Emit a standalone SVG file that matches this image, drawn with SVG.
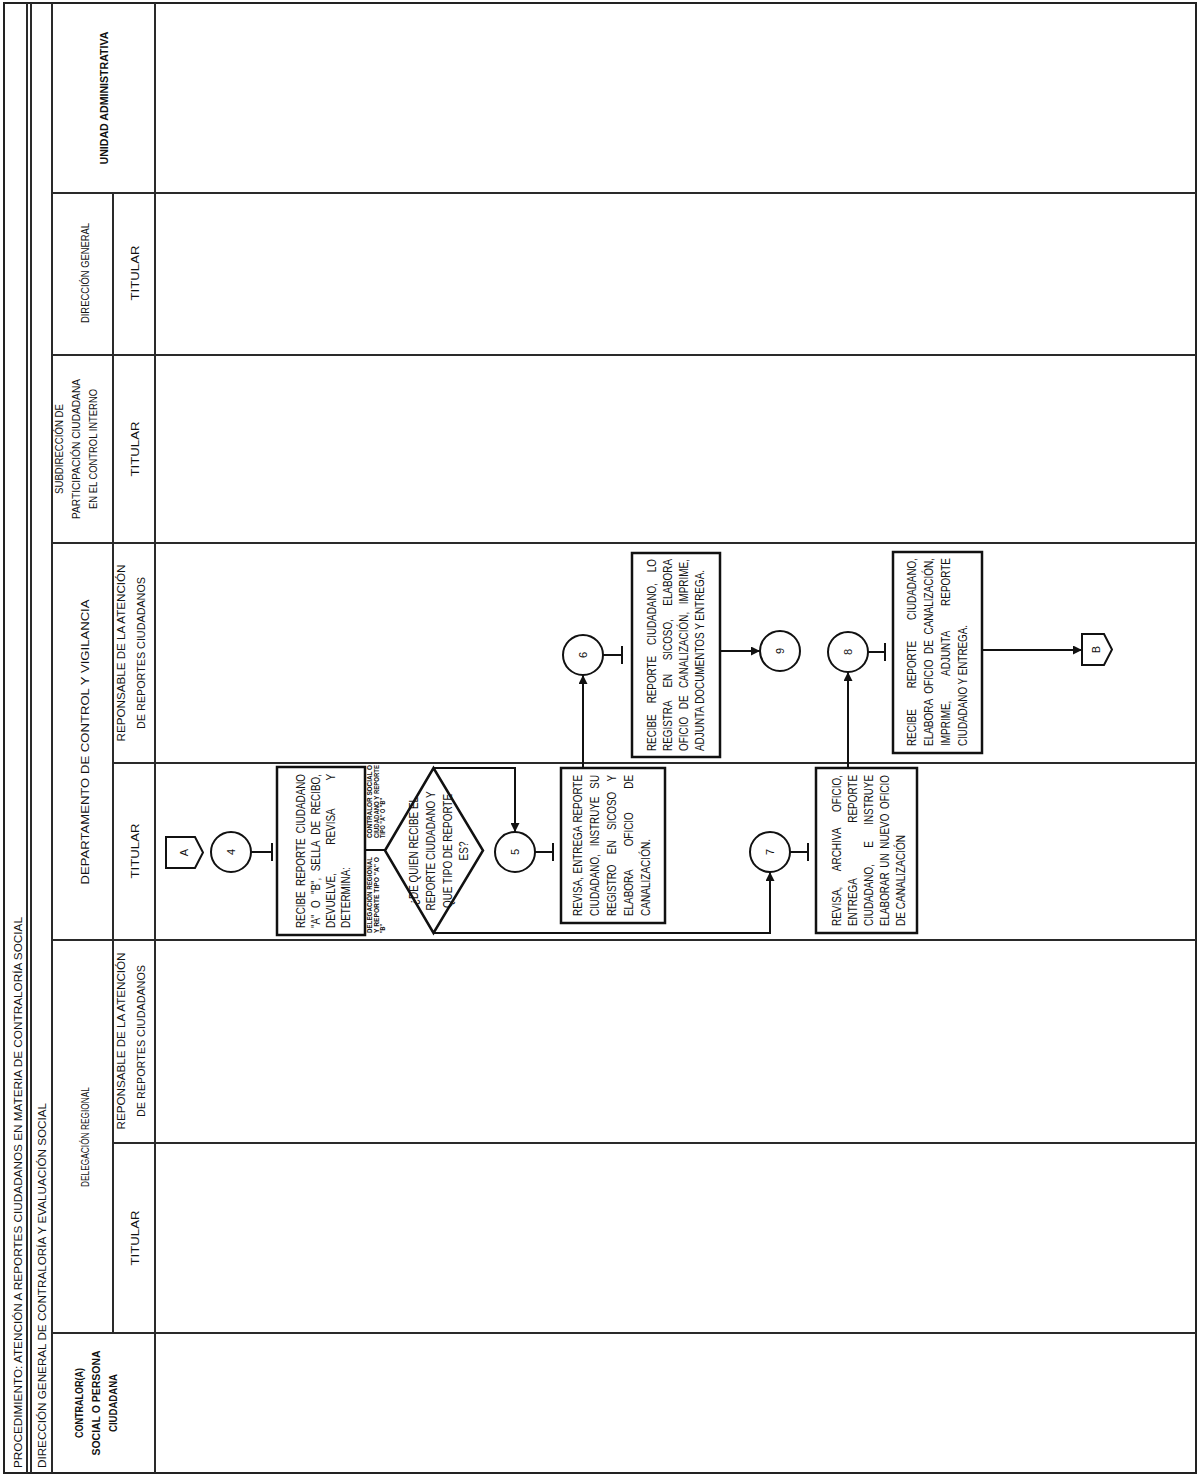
<svg xmlns="http://www.w3.org/2000/svg" width="1199" height="1475" viewBox="0 0 1199 1475">
<style>
.f{font-family:"Liberation Sans",Arial,sans-serif;fill:#111}
.h{font-size:11px}
.hb{font-size:11px;font-weight:bold}
.tt{font-size:11px}
.bt{font-size:12px}
.sm{font-size:6.5px;font-weight:bold}
.cn{font-size:11px}
.frame{fill:#fff;stroke:#222;stroke-width:2}
.lane{stroke:#2a2a2a;stroke-width:2;fill:none}
.box{fill:#fff;stroke:#111;stroke-width:2.5}
.circ{fill:#fff;stroke:#111;stroke-width:2}
.ln{stroke:#111;stroke-width:2;fill:none}
</style>
<defs>
<marker id="ah" viewBox="0 0 10 10" refX="10" refY="5" markerWidth="11" markerHeight="9" markerUnits="userSpaceOnUse" orient="auto"><path d="M0,0 L10,5 L0,10 z" fill="#111"/></marker>
</defs>

<g id="frame">
<rect class="frame" x="4" y="3" width="1192" height="1470"/>
<line class="lane" x1="27" y1="3" x2="27" y2="1473"/>
<line class="lane" x1="31" y1="3" x2="31" y2="1473"/>
<line class="lane" x1="52" y1="3" x2="52" y2="1473"/>
<line class="lane" x1="155" y1="3" x2="155" y2="1473"/>
<line class="lane" x1="113" y1="193" x2="113" y2="1333"/>
<line class="lane" x1="52" y1="193" x2="1196" y2="193"/>
<line class="lane" x1="52" y1="355" x2="1196" y2="355"/>
<line class="lane" x1="52" y1="543" x2="1196" y2="543"/>
<line class="lane" x1="113" y1="763" x2="1196" y2="763"/>
<line class="lane" x1="52" y1="940" x2="1196" y2="940"/>
<line class="lane" x1="113" y1="1143" x2="1196" y2="1143"/>
<line class="lane" x1="52" y1="1333" x2="1196" y2="1333"/>
</g>

<g id="title">
<text class="f tt" transform="translate(22,1468) rotate(-90)" textLength="551" lengthAdjust="spacingAndGlyphs">PROCEDIMIENTO: ATENCIÓN A REPORTES CIUDADANOS EN MATERIA DE CONTRALORÍA SOCIAL</text>
<text class="f tt" transform="translate(46,1468) rotate(-90)" textLength="365" lengthAdjust="spacingAndGlyphs">DIRECCIÓN GENERAL DE CONTRALORÍA Y EVALUACIÓN SOCIAL</text>
</g>

<g id="header" text-anchor="middle">
<text class="f hb" transform="translate(108,98) rotate(-90)" textLength="133" lengthAdjust="spacingAndGlyphs">UNIDAD ADMINISTRATIVA</text>
<text class="f h" transform="translate(89,273) rotate(-90)" textLength="100" lengthAdjust="spacingAndGlyphs">DIRECCIÓN GENERAL</text>
<text class="f h" transform="translate(139,273) rotate(-90)" textLength="55" lengthAdjust="spacingAndGlyphs">TITULAR</text>
<text class="f h" transform="translate(63,449) rotate(-90)" textLength="90" lengthAdjust="spacingAndGlyphs">SUBDIRECCIÓN DE</text>
<text class="f h" transform="translate(80,449) rotate(-90)" textLength="140" lengthAdjust="spacingAndGlyphs">PARTICIPACIÓN CIUDADANA</text>
<text class="f h" transform="translate(97,449) rotate(-90)" textLength="120" lengthAdjust="spacingAndGlyphs">EN EL CONTROL INTERNO</text>
<text class="f h" transform="translate(139,449) rotate(-90)" textLength="55" lengthAdjust="spacingAndGlyphs">TITULAR</text>
<text class="f h" transform="translate(89,742) rotate(-90)" textLength="285" lengthAdjust="spacingAndGlyphs">DEPARTAMENTO DE CONTROL Y VIGILANCIA</text>
<text class="f h" transform="translate(125,653) rotate(-90)" textLength="177" lengthAdjust="spacingAndGlyphs">REPONSABLE DE LA ATENCIÓN</text>
<text class="f h" transform="translate(145,653) rotate(-90)" textLength="152" lengthAdjust="spacingAndGlyphs">DE REPORTES CIUDADANOS</text>
<text class="f h" transform="translate(139,851) rotate(-90)" textLength="55" lengthAdjust="spacingAndGlyphs">TITULAR</text>
<text class="f h" transform="translate(89,1137) rotate(-90)" textLength="100" lengthAdjust="spacingAndGlyphs">DELEGACIÓN REGIONAL</text>
<text class="f h" transform="translate(125,1041) rotate(-90)" textLength="177" lengthAdjust="spacingAndGlyphs">REPONSABLE DE LA ATENCIÓN</text>
<text class="f h" transform="translate(145,1041) rotate(-90)" textLength="152" lengthAdjust="spacingAndGlyphs">DE REPORTES CIUDADANOS</text>
<text class="f h" transform="translate(139,1238) rotate(-90)" textLength="55" lengthAdjust="spacingAndGlyphs">TITULAR</text>
<text class="f hb" transform="translate(83,1403) rotate(-90)" textLength="70" lengthAdjust="spacingAndGlyphs">CONTRALOR(A)</text>
<text class="f hb" transform="translate(100,1403) rotate(-90)" textLength="105" lengthAdjust="spacingAndGlyphs">SOCIAL O PERSONA</text>
<text class="f hb" transform="translate(117,1403) rotate(-90)" textLength="58" lengthAdjust="spacingAndGlyphs">CIUDADANA</text>
</g>

<g id="connectors">
<path class="ln" d="M251,852 H272 M272,843 V861"/>
<path class="ln" d="M365,850 H385"/>
<path class="ln" d="M433,768 H515 V832" marker-end="url(#ah)"/>
<path class="ln" d="M433,933 H770 V872" marker-end="url(#ah)"/>
<path class="ln" d="M535,852 H553 M553,843 V861"/>
<path class="ln" d="M583,768 V675" marker-end="url(#ah)"/>
<path class="ln" d="M603,655 H622 M622,646 V664"/>
<path class="ln" d="M720,651 H760" marker-end="url(#ah)"/>
<path class="ln" d="M790,852 H808 M808,843 V861"/>
<path class="ln" d="M848,768 V672" marker-end="url(#ah)"/>
<path class="ln" d="M868,652 H885 M885,643 V661"/>
<path class="ln" d="M982,650 H1082" marker-end="url(#ah)"/>
</g>

<g id="offpage-A">
<path class="box" style="stroke-width:2" d="M166,837 H195 L203,852.5 L195,868 H166 Z"/>
<text class="f cn" text-anchor="middle" transform="translate(188,852.5) rotate(-90)">A</text>
</g>

<g id="c4">
<circle class="circ" cx="231" cy="852" r="20"/>
<text class="f cn" text-anchor="middle" transform="translate(235,852) rotate(-90)">4</text>
</g>

<g id="box1">
<rect class="box" x="277" y="767" width="88" height="168"/>
<g class="f bt">
<text transform="translate(305,928) rotate(-90)" word-spacing="3.2" textLength="154" lengthAdjust="spacingAndGlyphs">RECIBE REPORTE CIUDADANO</text>
<text transform="translate(320,928) rotate(-90)" word-spacing="4.4" textLength="154" lengthAdjust="spacingAndGlyphs">"A" O "B", SELLA DE RECIBO,</text>
<text transform="translate(335,928) rotate(-90)" word-spacing="31" textLength="154" lengthAdjust="spacingAndGlyphs">DEVUELVE, REVISA Y</text>
<text transform="translate(350,928) rotate(-90)" textLength="61" lengthAdjust="spacingAndGlyphs">DETERMINA:</text>
</g>
</g>

<g id="branch-labels" class="f sm">
<text transform="translate(372,838) rotate(-90)" textLength="73" lengthAdjust="spacingAndGlyphs">CONTRALOR SOCIAL O</text>
<text transform="translate(378.5,838) rotate(-90)" textLength="73" lengthAdjust="spacingAndGlyphs">CIUDADANO Y REPORTE</text>
<text transform="translate(385,838) rotate(-90)" textLength="40" lengthAdjust="spacingAndGlyphs">TIPO "A" O "B"</text>
<text transform="translate(372,933) rotate(-90)" textLength="76" lengthAdjust="spacingAndGlyphs">DELEGACIÓN REGIONAL</text>
<text transform="translate(378.5,933) rotate(-90)" textLength="76" lengthAdjust="spacingAndGlyphs">Y REPORTE TIPO "A" O</text>
<text transform="translate(385,933) rotate(-90)" textLength="9" lengthAdjust="spacingAndGlyphs">"B"</text>
</g>

<g id="decision">
<path class="box" d="M385,850.5 L433.5,768 L483,850.5 L433.5,933 Z"/>
<g class="f bt" text-anchor="middle">
<text transform="translate(418,851) rotate(-90)" textLength="108" lengthAdjust="spacingAndGlyphs">¿DE QUIEN RECIBE EL</text>
<text transform="translate(435,851) rotate(-90)" textLength="119" lengthAdjust="spacingAndGlyphs">REPORTE CIUDADANO Y</text>
<text transform="translate(452,851) rotate(-90)" textLength="114" lengthAdjust="spacingAndGlyphs">QUE TIPO DE REPORTE</text>
<text transform="translate(468,851) rotate(-90)" textLength="19" lengthAdjust="spacingAndGlyphs">ES?</text>
</g>
</g>

<g id="c5">
<circle class="circ" cx="515" cy="852" r="20"/>
<text class="f cn" text-anchor="middle" transform="translate(519,852) rotate(-90)">5</text>
</g>

<g id="box2">
<rect class="box" x="561" y="768" width="104" height="155"/>
<g class="f bt">
<text transform="translate(582,916) rotate(-90)" word-spacing="1" textLength="141" lengthAdjust="spacingAndGlyphs">REVISA, ENTREGA REPORTE</text>
<text transform="translate(599,916) rotate(-90)" word-spacing="6.3" textLength="141" lengthAdjust="spacingAndGlyphs">CIUDADANO, INSTRUYE SU</text>
<text transform="translate(616,916) rotate(-90)" word-spacing="9.3" textLength="141" lengthAdjust="spacingAndGlyphs">REGISTRO EN SICOSO Y</text>
<text transform="translate(633,916) rotate(-90)" word-spacing="25.3" textLength="141" lengthAdjust="spacingAndGlyphs">ELABORA OFICIO DE</text>
<text transform="translate(650,916) rotate(-90)" textLength="77" lengthAdjust="spacingAndGlyphs">CANALIZACIÓN.</text>
</g>
</g>

<g id="c6">
<circle class="circ" cx="583" cy="655" r="20"/>
<text class="f cn" text-anchor="middle" transform="translate(587,655) rotate(-90)">6</text>
</g>

<g id="box3">
<rect class="box" x="632" y="553" width="88" height="204"/>
<g class="f bt">
<text transform="translate(656,751) rotate(-90)" word-spacing="10" textLength="192" lengthAdjust="spacingAndGlyphs">RECIBE REPORTE CIUDADANO, LO</text>
<text transform="translate(672,751) rotate(-90)" word-spacing="13.1" textLength="192" lengthAdjust="spacingAndGlyphs">REGISTRA EN SICOSO, ELABORA</text>
<text transform="translate(688,751) rotate(-90)" word-spacing="5.6" textLength="192" lengthAdjust="spacingAndGlyphs">OFICIO DE CANALIZACIÓN, IMPRIME,</text>
<text transform="translate(704,751) rotate(-90)" textLength="181" lengthAdjust="spacingAndGlyphs">ADJUNTA DOCUMENTOS Y ENTREGA.</text>
</g>
</g>

<g id="c9">
<circle class="circ" cx="780" cy="651" r="20"/>
<text class="f cn" text-anchor="middle" transform="translate(784,651) rotate(-90)">9</text>
</g>

<g id="c7">
<circle class="circ" cx="770" cy="852" r="20"/>
<text class="f cn" text-anchor="middle" transform="translate(774,852) rotate(-90)">7</text>
</g>

<g id="box4">
<rect class="box" x="816" y="768" width="101" height="165"/>
<g class="f bt">
<text transform="translate(841,926) rotate(-90)" word-spacing="16" textLength="151" lengthAdjust="spacingAndGlyphs">REVISA, ARCHIVA OFICIO,</text>
<text transform="translate(857,926) rotate(-90)" word-spacing="64.6" textLength="151" lengthAdjust="spacingAndGlyphs">ENTREGA REPORTE</text>
<text transform="translate(873,926) rotate(-90)" word-spacing="16.7" textLength="151" lengthAdjust="spacingAndGlyphs">CIUDADANO, E INSTRUYE</text>
<text transform="translate(889,926) rotate(-90)" word-spacing="2.4" textLength="151" lengthAdjust="spacingAndGlyphs">ELABORAR UN NUEVO OFICIO</text>
<text transform="translate(905,926) rotate(-90)" textLength="91" lengthAdjust="spacingAndGlyphs">DE CANALIZACIÓN</text>
</g>
</g>

<g id="c8">
<circle class="circ" cx="848" cy="652" r="20"/>
<text class="f cn" text-anchor="middle" transform="translate(852,652) rotate(-90)">8</text>
</g>

<g id="box5">
<rect class="box" x="893" y="552" width="89" height="201"/>
<g class="f bt">
<text transform="translate(916,746) rotate(-90)" word-spacing="22.1" textLength="188" lengthAdjust="spacingAndGlyphs">RECIBE REPORTE CIUDADANO,</text>
<text transform="translate(933,746) rotate(-90)" word-spacing="3.3" textLength="188" lengthAdjust="spacingAndGlyphs">ELABORA OFICIO DE CANALIZACIÓN,</text>
<text transform="translate(950,746) rotate(-90)" word-spacing="27.2" textLength="188" lengthAdjust="spacingAndGlyphs">IMPRIME, ADJUNTA REPORTE</text>
<text transform="translate(967,746) rotate(-90)" textLength="121" lengthAdjust="spacingAndGlyphs">CIUDADANO Y ENTREGA.</text>
</g>
</g>

<g id="offpage-B">
<path class="box" style="stroke-width:2" d="M1082,634 H1104 L1112,649.5 L1104,665 H1082 Z"/>
<text class="f cn" text-anchor="middle" transform="translate(1100,649.5) rotate(-90)">B</text>
</g>
</svg>
